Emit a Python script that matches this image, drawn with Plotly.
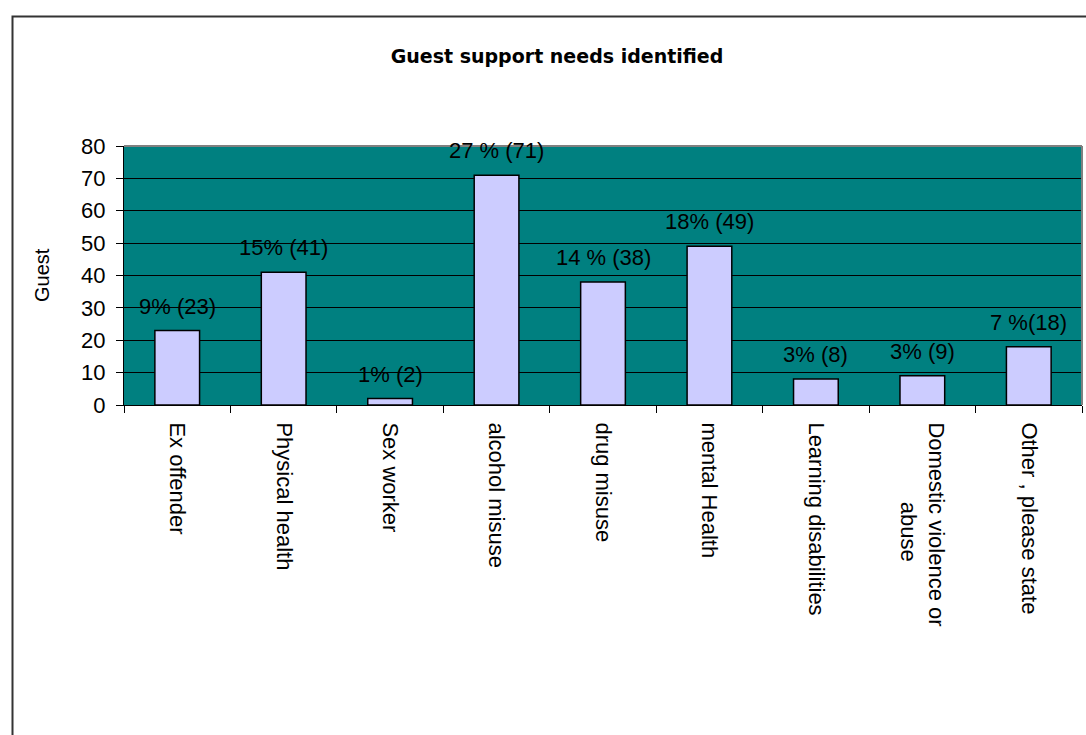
import plotly.graph_objects as go

categories = [
    "Ex offender",
    "Physical health",
    "Sex worker",
    "alcohol misuse",
    "drug misuse",
    "mental Health",
    "Learning disabilities",
    "Domestic violence or<br>" + "&nbsp;" * 13 + "abuse",
    "Other , please state",
]
guests = [23, 41, 2, 71, 38, 49, 8, 9, 18]
value_labels = [
    "9% (23)", "15% (41)", "1% (2)", "27 % (71)", "14 % (38)",
    "18% (49)", "3% (8)", "3% (9)", "7 %(18)",
]
y_ticks = [0, 10, 20, 30, 40, 50, 60, 70, 80]

W, H = 1086, 735
L, R, T, B = 124, 4, 146, 330
pw, ph = W - L - R, H - T - B

def px_x(x):
    return (x - L) / pw

def px_y(y):
    return (H - B - y) / ph

fig = go.Figure()
fig.add_trace(go.Bar(
    x=categories,
    y=guests,
    marker=dict(color="#CCCCFF", line=dict(color="black", width=1.5)),
    width=0.42,
    hoverinfo="x+y",
))

for cat, val, lab in zip(categories, guests, value_labels):
    fig.add_annotation(
        x=cat, y=val, text=lab, showarrow=False,
        yanchor="bottom", yshift=10,
        font=dict(family="Liberation Sans, Arial", size=22, color="black"),
    )

# y-axis title
fig.add_annotation(
    x=px_x(42), y=px_y(275), xref="paper", yref="paper",
    xanchor="center", yanchor="middle",
    text="Guest", textangle=-90, showarrow=False,
    font=dict(family="Liberation Sans, Arial", size=20, color="black"),
)

# chart area frame and plot-area top/right edges
fig.add_shape(type="rect", xref="paper", yref="paper",
              x0=px_x(12.5), y0=px_y(745), x1=px_x(1095), y1=px_y(16.5),
              line=dict(color="#333333", width=2), fillcolor="rgba(0,0,0,0)",
              layer="below")
fig.add_shape(type="line", xref="paper", yref="paper",
              x0=0, x1=1, y0=1, y1=1, line=dict(color="#808080", width=2))
fig.add_shape(type="line", xref="paper", yref="paper",
              x0=1, x1=1, y0=0, y1=1, line=dict(color="#808080", width=2))

fig.update_layout(
    width=W, height=H,
    margin=dict(l=L, r=R, t=T, b=B),
    paper_bgcolor="white",
    plot_bgcolor="#008080",
    showlegend=False,
    title=dict(
        text="<b>Guest support needs identified</b>",
        x=557 / W, xanchor="center",
        y=1 - 56 / H, yanchor="middle", yref="container",
        font=dict(family="DejaVu Sans, Verdana", size=19, color="black"),
    ),
    xaxis=dict(
        type="category",
        tickangle=90,
        tickson="boundaries",
        ticks="outside", ticklen=7, tickcolor="black", tickwidth=1,
        showline=True, linecolor="black", linewidth=1,
        showgrid=False,
        ticklabelstandoff=12,
        tickfont=dict(family="Liberation Sans, Arial", size=22, color="black"),
    ),
    yaxis=dict(
        range=[0, 80],
        tickvals=y_ticks,
        ticks="outside", ticklen=7, tickcolor="black", tickwidth=1,
        showline=True, linecolor="black", linewidth=1,
        showgrid=True, gridcolor="black", gridwidth=1,
        zeroline=False,
        ticklabelstandoff=6,
        tickfont=dict(family="Liberation Sans, Arial", size=22, color="black"),
    ),
)

fig.write_html("out.html")
